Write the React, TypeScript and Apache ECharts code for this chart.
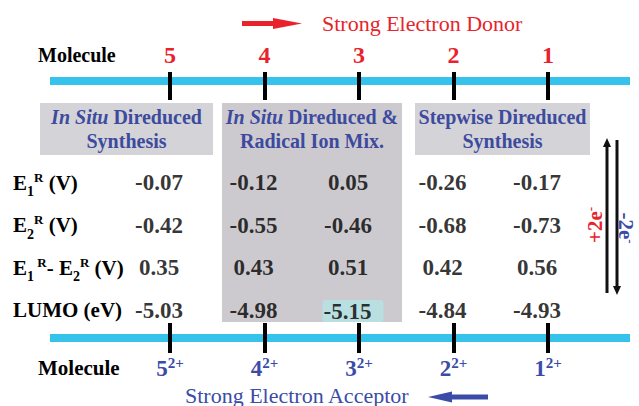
import React, { useEffect, useRef } from "react";
import * as echarts from "echarts";

const molecules = ["5", "4", "3", "2", "1"];
const e1R = [-0.07, -0.12, 0.05, -0.26, -0.17];
const e2R = [-0.42, -0.55, -0.46, -0.68, -0.73];
const e1MinusE2 = [0.35, 0.43, 0.51, 0.42, 0.56];
const lumo = [-5.03, -4.98, -5.15, -4.84, -4.93];
const rowLabels = [
  "{m|E}{sub|1}{sup|R}{m| (V)}",
  "{m|E}{sub|2}{sup|R}{m| (V)}",
  "{m|E}{sub|1}{sup| R}{m|- E}{sub|2}{sup|R}{m| (V)}",
  "{m|LUMO (eV)}",
];
const rows = [e1R, e2R, e1MinusE2, lumo];
const highlightRow = 3;
const highlightCol = 2;

const FONT = "'Liberation Serif', 'Times New Roman', serif";
const RED = "#E8232B";
const BLUE = "#3A4CA8";
const BOXBLUE = "#3D4B9E";
const CYAN = "#36C3EB";
const GREY = "#D4D3D7";
const MIDGREY = "#CDCACF";
const HIGHLIGHT = "#B5E3E5";

const GL = 122.75;
const GR = 43.75;

export default function App() {
  const ref = useRef<HTMLDivElement>(null);
  useEffect(() => {
    const chart = echarts.init(ref.current!, null, { renderer: "svg" });

    const boxRich = {
      i: { fontFamily: FONT, fontSize: 20, fontWeight: "bold", fontStyle: "italic", fill: BOXBLUE, color: BOXBLUE, lineHeight: 24 },
      b: { fontFamily: FONT, fontSize: 20, fontWeight: "bold", fill: BOXBLUE, color: BOXBLUE, lineHeight: 24 },
    };

    const series = rows.map((vals, r) => ({
      type: "scatter",
      xAxisIndex: 2,
      yAxisIndex: 1,
      symbolSize: 1,
      silent: true,
      itemStyle: { color: "rgba(0,0,0,0)" },
      emphasis: { disabled: true },
      z: 5,
      label: {
        show: true,
        position: "inside",
        offset: [-11, 0],
        fontFamily: FONT,
        fontSize: 23,
        fontWeight: "bold",
        color: "#000",
        formatter: (p: any) => Number(p.value[2]).toFixed(2),
      },
      data: vals.map((v, c) =>
        r === highlightRow && c === highlightCol
          ? {
              value: [c, r, v],
              label: {
                backgroundColor: HIGHLIGHT,
                padding: [0, 12, 0, 1],
                borderRadius: 3,
                lineHeight: 22,
                offset: [-6, 1],
              },
            }
          : { value: [c, r, v] }
      ),
    }));

    const arrowHeadUp = (x: number, y: number) => ({
      type: "polygon",
      z: 1,
      shape: { points: [[x, y], [x - 4, y + 9], [x + 4, y + 9]] },
      style: { fill: "#111" },
    });

    chart.setOption({
      animation: false,
      grid: [
        { left: GL, right: GR, top: 72, bottom: 53 },
        { left: GL, right: GR, top: 161.25, bottom: 74.75 },
      ],
      xAxis: [
        {
          type: "category",
          gridIndex: 0,
          position: "top",
          data: molecules,
          axisLine: { show: false, onZero: false },
          axisTick: { show: true, alignWithLabel: true, inside: true, length: 28, lineStyle: { color: "#000", width: 4 } },
          axisLabel: { interval: 0, margin: 5, color: RED, fontFamily: FONT, fontSize: 24, fontWeight: "bold" },
          splitLine: { show: false },
        },
        {
          type: "category",
          gridIndex: 0,
          position: "bottom",
          data: molecules,
          axisLine: { show: false, onZero: false },
          axisTick: { show: true, alignWithLabel: true, inside: true, length: 30, lineStyle: { color: "#000", width: 4 } },
          axisLabel: {
            interval: 0,
            margin: 2,
            formatter: (v: string) => `{b|${v}}{s|2+}`,
            rich: {
              b: { fontFamily: FONT, fontSize: 23, fontWeight: "bold", color: BLUE, lineHeight: 26 },
              s: { fontFamily: FONT, fontSize: 15, fontWeight: "bold", color: BLUE, lineHeight: 15, verticalAlign: "top" },
            },
          },
          splitLine: { show: false },
        },
        {
          type: "category",
          gridIndex: 1,
          data: molecules,
          show: false,
        },
      ],
      yAxis: [
        { type: "value", gridIndex: 0, show: false, min: 0, max: 1 },
        {
          type: "category",
          gridIndex: 1,
          data: rowLabels,
          inverse: true,
          axisLine: { show: false },
          axisTick: { show: false },
          splitLine: { show: false },
          axisLabel: {
            interval: 0,
            align: "left",
            margin: GL - 13,
            rich: {
              m: { fontFamily: FONT, fontSize: 21, fontWeight: "bold", color: "#000", lineHeight: 32 },
              sub: { fontFamily: FONT, fontSize: 14, fontWeight: "bold", color: "#000", lineHeight: 14, verticalAlign: "bottom" },
              sup: { fontFamily: FONT, fontSize: 13, fontWeight: "bold", color: "#000", lineHeight: 13, verticalAlign: "top", padding: [4, 0, 0, 0] },
            },
          },
        },
      ],
      series,
      graphic: [
        // boxes
        { type: "rect", z: -3, shape: { x: 40, y: 103, width: 173, height: 52 }, style: { fill: GREY } },
        { type: "rect", z: -3, shape: { x: 222, y: 103, width: 180, height: 219 }, style: { fill: MIDGREY } },
        { type: "rect", z: -3, shape: { x: 415, y: 103, width: 175, height: 52 }, style: { fill: GREY } },
        // cyan lines
        { type: "rect", z: -1, shape: { x: 50, y: 77, width: 580, height: 8 }, style: { fill: CYAN } },
        { type: "rect", z: -1, shape: { x: 50, y: 334, width: 580, height: 8 }, style: { fill: CYAN } },
        // box texts
        {
          type: "text", z: 2, x: 126.5, y: 129,
          style: { text: "{i|In Situ}{b| Direduced}\n{b|Synthesis}", rich: boxRich, align: "center", verticalAlign: "middle" },
        },
        {
          type: "text", z: 2, x: 312, y: 129,
          style: { text: "{i|In Situ}{b| Direduced &}\n{b|Radical Ion Mix.}", rich: boxRich, align: "center", verticalAlign: "middle" },
        },
        {
          type: "text", z: 2, x: 502.5, y: 129,
          style: { text: "{b|Stepwise Direduced}\n{b|Synthesis}", rich: boxRich, align: "center", verticalAlign: "middle" },
        },
        // Molecule labels
        {
          type: "text", z: 2, x: 38, y: 55,
          style: { text: "Molecule", fontFamily: FONT, fontSize: 20, fontWeight: "bold", fill: "#000", align: "left", verticalAlign: "middle" },
        },
        {
          type: "text", z: 2, x: 38, y: 368,
          style: { text: "Molecule", fontFamily: FONT, fontSize: 21, fontWeight: "bold", fill: "#000", align: "left", verticalAlign: "middle" },
        },
        // top red arrow + title
        { type: "rect", z: 1, shape: { x: 242, y: 21, width: 33, height: 5 }, style: { fill: RED } },
        { type: "polygon", z: 1, shape: { points: [[273, 18], [302, 23.5], [273, 29]] }, style: { fill: RED } },
        {
          type: "text", z: 2, x: 322, y: 23,
          style: { text: "Strong Electron Donor", fontFamily: FONT, fontSize: 22, fill: RED, align: "left", verticalAlign: "middle" },
        },
        // bottom blue arrow + title
        { type: "rect", z: 1, shape: { x: 450, y: 394.5, width: 38, height: 5 }, style: { fill: BLUE } },
        { type: "polygon", z: 1, shape: { points: [[452, 391.5], [428, 397], [452, 402.5]] }, style: { fill: BLUE } },
        {
          type: "text", z: 2, x: 185, y: 395,
          style: { text: "Strong Electron Acceptor", fontFamily: FONT, fontSize: 22, fill: BLUE, align: "left", verticalAlign: "middle" },
        },
        // vertical arrows
        { type: "line", z: 1, shape: { x1: 607, y1: 145, x2: 607, y2: 293 }, style: { stroke: "#111", lineWidth: 3 } },
        arrowHeadUp(607, 138),
        { type: "line", z: 1, shape: { x1: 617, y1: 140, x2: 617, y2: 288 }, style: { stroke: "#111", lineWidth: 3 } },
        { type: "polygon", z: 1, shape: { points: [[617, 295], [613, 286], [621, 286]] }, style: { fill: "#111" } },
        {
          type: "text", z: 2, x: 595, y: 225, rotation: Math.PI / 2,
          style: {
            text: "{m|+2e}{s|-}",
            align: "center", verticalAlign: "middle",
            rich: {
              m: { fontFamily: FONT, fontSize: 21, fontWeight: "bold", fill: RED, color: RED, lineHeight: 22 },
              s: { fontFamily: FONT, fontSize: 13, fontWeight: "bold", fill: RED, color: RED, lineHeight: 13, verticalAlign: "top" },
            },
          },
        },
        {
          type: "text", z: 2, x: 626, y: 228, rotation: -Math.PI / 2,
          style: {
            text: "{m|-2e}{s|-}",
            align: "center", verticalAlign: "middle",
            rich: {
              m: { fontFamily: FONT, fontSize: 21, fontWeight: "bold", fill: BLUE, color: BLUE, lineHeight: 22 },
              s: { fontFamily: FONT, fontSize: 13, fontWeight: "bold", fill: BLUE, color: BLUE, lineHeight: 13, verticalAlign: "top" },
            },
          },
        },
      ],
    });
    return () => chart.dispose();
  }, []);

  return (
    <div
      ref={ref}
      style={{ position: "fixed", left: 0, top: 0, width: 639, height: 406, background: "#fff" }}
    />
  );
}
